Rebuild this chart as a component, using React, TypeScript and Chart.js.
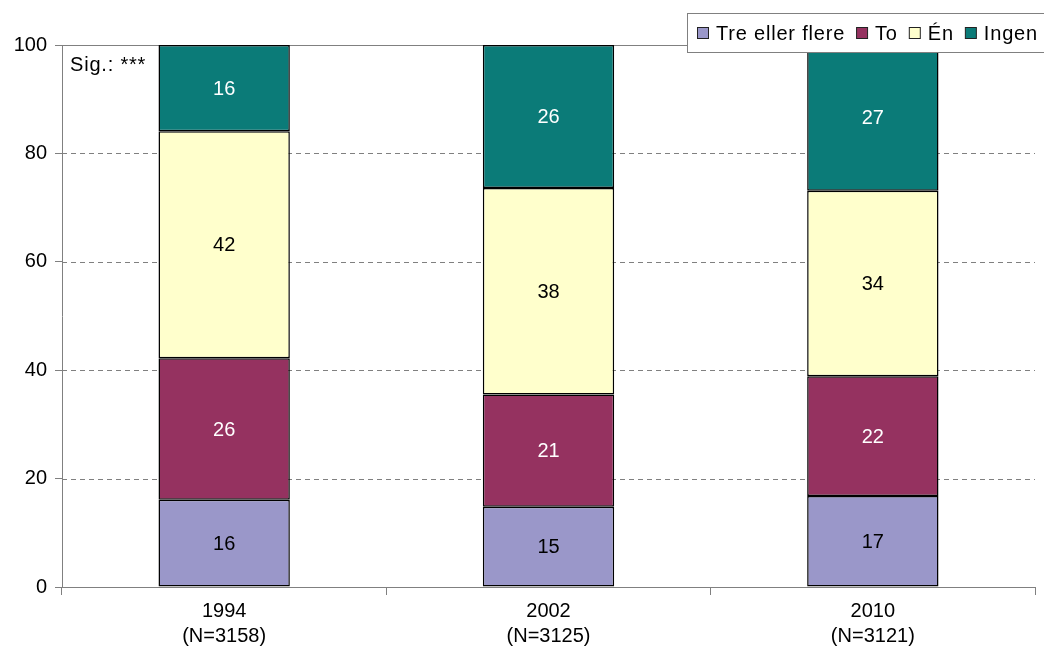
import React, { useEffect, useRef } from "react";
import { Chart, registerables } from "chart.js";

Chart.register(...registerables);

const categories: string[][] = [
  ["1994", "(N=3158)"],
  ["2002", "(N=3125)"],
  ["2010", "(N=3121)"],
];
const seriesNames = ["Tre eller flere", "To", "Én", "Ingen"];
const treEllerFlere = [16.1, 14.8, 16.8];
const to = [26.1, 20.7, 22.1];
const en = [41.9, 38.1, 34.2];
const ingen = [15.9, 26.4, 26.9];
const yTicks = [0, 20, 40, 60, 80, 100];
const sigText = "Sig.: ***";

const colors = ["#9a97c9", "#953260", "#ffffcc", "#0b7b78"];
const labelColors = ["#000000", "#ffffff", "#000000", "#ffffff"];
const FONT = "'Liberation Sans', Arial, sans-serif";

export default function App() {
  const ref = useRef<HTMLCanvasElement>(null);
  useEffect(() => {
    const canvas = ref.current!;
    const seriesData = [treEllerFlere, to, en, ingen];

    const overlay = {
      id: "overlay",
      beforeDatasetsDraw(chart: any) {
        const { ctx, chartArea } = chart;
        const y = chart.scales.y;
        ctx.save();
        ctx.strokeStyle = "#808080";
        ctx.lineWidth = 1;
        for (const v of yTicks) {
          if (v === 0) continue;
          const py = Math.round(y.getPixelForValue(v)) + 0.5;
          ctx.setLineDash(v === 100 ? [] : [5, 4]);
          ctx.beginPath();
          ctx.moveTo(chartArea.left, py);
          ctx.lineTo(chartArea.right, py);
          ctx.stroke();
        }
        ctx.restore();
      },
      afterDatasetsDraw(chart: any) {
        const { ctx, chartArea } = chart;
        ctx.save();
        ctx.font = `20px ${FONT}`;
        ctx.textAlign = "center";
        ctx.textBaseline = "middle";
        chart.data.datasets.forEach((ds: any, di: number) => {
          const meta = chart.getDatasetMeta(di);
          meta.data.forEach((bar: any, i: number) => {
            const v = ds.data[i];
            const top = bar.y;
            const bottom = bar.base;
            ctx.fillStyle = labelColors[di];
            ctx.fillText(String(Math.round(v)), bar.x, (top + bottom) / 2 + 1);
          });
        });
        ctx.fillStyle = "#000";
        ctx.textAlign = "left";
        (ctx as any).letterSpacing = "0.8px";
        ctx.fillText(sigText, chartArea.left + 8, chartArea.top + 20);
        ctx.restore();
      },
      afterDraw(chart: any) {
        const { ctx } = chart;
        ctx.save();
        const bx = 687.5, by = 13.5, bw = 370, bh = 39;
        ctx.fillStyle = "#ffffff";
        ctx.fillRect(bx, by, bw, bh);
        ctx.strokeStyle = "#808080";
        ctx.lineWidth = 1;
        ctx.strokeRect(bx, by, bw, bh);
        ctx.font = `20px ${FONT}`;
        (ctx as any).letterSpacing = "0.8px";
        ctx.textBaseline = "middle";
        ctx.textAlign = "left";
        let x = 697;
        const cy = 33;
        seriesNames.forEach((name, i) => {
          ctx.fillStyle = colors[i];
          ctx.fillRect(x + 0.5, cy - 5.5, 11, 11);
          ctx.strokeStyle = "#222";
          ctx.strokeRect(x + 0.5, cy - 5.5, 11, 11);
          ctx.fillStyle = "#000";
          ctx.fillText(name, x + 19, cy + 1);
          x += 19 + ctx.measureText(name).width + 11;
        });
        ctx.restore();
      },
    };

    const chart = new Chart(canvas, {
      type: "bar",
      data: {
        labels: categories,
        datasets: seriesNames.map((name, i) => ({
          label: name,
          data: seriesData[i],
          backgroundColor: colors[i],
          borderColor: "#000000",
          borderWidth: 1.5,
          borderSkipped: false,
          categoryPercentage: 1,
          barPercentage: 0.405,
        })),
      },
      options: {
        animation: false,
        responsive: false,
        maintainAspectRatio: false,
        layout: { padding: { left: 0, top: 45, right: 9, bottom: 0 } },
        plugins: { legend: { display: false }, tooltip: { enabled: false } },
        scales: {
          x: {
            stacked: true,
            grid: {
              display: true,
              offset: true,
              drawOnChartArea: false,
              drawTicks: true,
              tickLength: 8,
              color: "#808080",
            },
            border: { display: true, color: "#808080", width: 1 },
            ticks: {
              color: "#000",
              font: { family: FONT, size: 20, lineHeight: 1.25 },
              padding: 4,
              maxRotation: 0,
            },
            afterFit(scale: any) {
              scale.height = 75;
            },
          },
          y: {
            stacked: true,
            min: 0,
            max: 100,
            grid: {
              display: true,
              drawOnChartArea: false,
              drawTicks: true,
              tickLength: 7,
              color: "#808080",
            },
            border: { display: true, color: "#808080", width: 1 },
            ticks: {
              stepSize: 20,
              color: "#000",
              font: { family: FONT, size: 20 },
              padding: 8,
            },
            afterFit(scale: any) {
              scale.width = 62;
            },
          },
        },
      },
      plugins: [overlay],
    });
    return () => chart.destroy();
  }, []);

  return (
    <div style={{ position: "absolute", left: 0, top: 0, width: 1044, height: 662, background: "#fff" }}>
      <canvas ref={ref} width={1044} height={662} style={{ width: 1044, height: 662 }} />
    </div>
  );
}
